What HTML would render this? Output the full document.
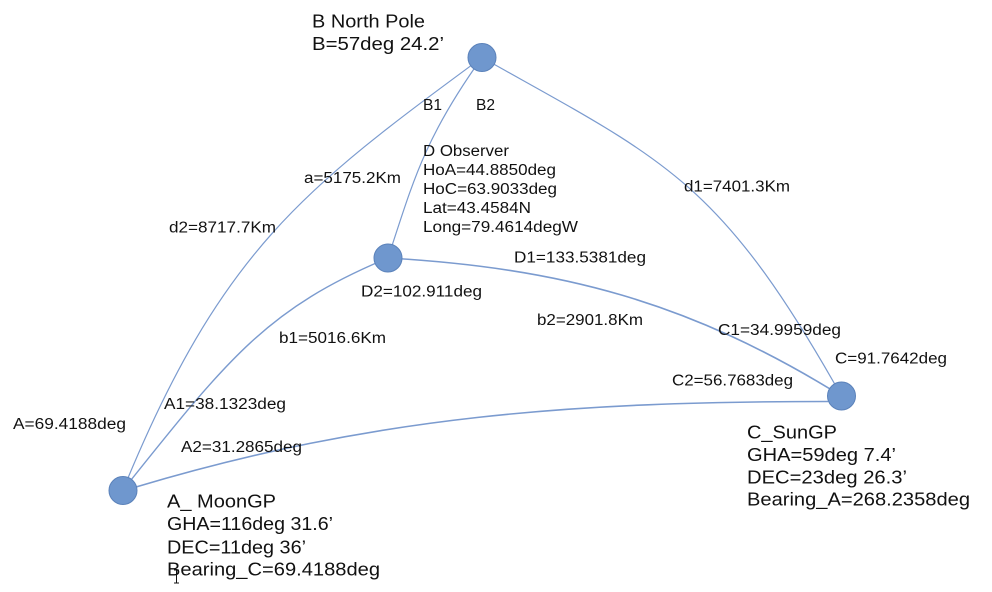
<!DOCTYPE html>
<html>
<head>
<meta charset="utf-8">
<style>
html,body{margin:0;padding:0;background:#fff;}
svg{display:block;}
text{font-family:"Liberation Sans",Arial,sans-serif;fill:#111;}
.s{font-size:15.4px;}
.b{font-size:18.6px;}
</style>
</head>
<body>
<svg width="992" height="592" viewBox="0 0 992 592" xmlns="http://www.w3.org/2000/svg">
<rect width="992" height="592" fill="#fff"/>
<g fill="none" stroke="#7b9bcf">
  <path d="M123,490 C221.5,249 305,188 482,57.5" stroke-width="1.2"/>
  <path d="M123,490 C229,357 268,308 388,258" stroke-width="1.4"/>
  <path d="M482,57.5 C424,138.5 413,182 388,258" stroke-width="1.2"/>
  <path d="M482,57.5 C664.7,160.4 719,178.5 841.5,396" stroke-width="1.2"/>
  <path d="M388,258 C560,268 688.5,301 841.5,396" stroke-width="1.6"/>
  <path d="M136,487 C375.5,415.3 578,401.5 828,401.5" stroke-width="1.6"/>
</g>
<g fill="#6f97ce" stroke="#5b82ba" stroke-width="1">
  <circle cx="482" cy="57.5" r="14"/>
  <circle cx="388" cy="258" r="14"/>
  <circle cx="123" cy="490.5" r="14"/>
  <circle cx="841.5" cy="396" r="14"/>
</g>

<text class="b" x="312" y="27.3" textLength="113" lengthAdjust="spacingAndGlyphs">B North Pole</text>
<text class="b" x="312" y="50" textLength="132" lengthAdjust="spacingAndGlyphs">B=57deg 24.2’</text>

<text class="b" x="167" y="507.3" textLength="109" lengthAdjust="spacingAndGlyphs">A_ MoonGP</text>
<text class="b" x="167" y="530" textLength="166" lengthAdjust="spacingAndGlyphs">GHA=116deg 31.6’</text>
<text class="b" x="167" y="553.3" textLength="139" lengthAdjust="spacingAndGlyphs">DEC=11deg 36’</text>
<text class="b" x="167" y="575.7" textLength="213" lengthAdjust="spacingAndGlyphs">Bearing_C=69.4188deg</text>

<text class="b" x="747" y="438.3" textLength="90" lengthAdjust="spacingAndGlyphs">C_SunGP</text>
<text class="b" x="747" y="461" textLength="149" lengthAdjust="spacingAndGlyphs">GHA=59deg 7.4’</text>
<text class="b" x="747" y="483.3" textLength="160" lengthAdjust="spacingAndGlyphs">DEC=23deg 26.3’</text>
<text class="b" x="747" y="505.7" textLength="223" lengthAdjust="spacingAndGlyphs">Bearing_A=268.2358deg</text>

<text class="s" x="423" y="110" textLength="19" lengthAdjust="spacingAndGlyphs">B1</text>
<text class="s" x="476" y="110" textLength="19" lengthAdjust="spacingAndGlyphs">B2</text>

<text class="s" x="423" y="156" textLength="86" lengthAdjust="spacingAndGlyphs">D Observer</text>
<text class="s" x="423" y="175" textLength="133" lengthAdjust="spacingAndGlyphs">HoA=44.8850deg</text>
<text class="s" x="423" y="194" textLength="134" lengthAdjust="spacingAndGlyphs">HoC=63.9033deg</text>
<text class="s" x="423" y="213" textLength="108" lengthAdjust="spacingAndGlyphs">Lat=43.4584N</text>
<text class="s" x="423" y="232" textLength="155" lengthAdjust="spacingAndGlyphs">Long=79.4614degW</text>

<text class="s" x="514" y="262.7" textLength="132" lengthAdjust="spacingAndGlyphs">D1=133.5381deg</text>
<text class="s" x="361" y="296.7" textLength="121" lengthAdjust="spacingAndGlyphs">D2=102.911deg</text>
<text class="s" x="304" y="183" textLength="97" lengthAdjust="spacingAndGlyphs">a=5175.2Km</text>
<text class="s" x="169" y="232.7" textLength="107" lengthAdjust="spacingAndGlyphs">d2=8717.7Km</text>
<text class="s" x="279" y="343" textLength="107" lengthAdjust="spacingAndGlyphs">b1=5016.6Km</text>
<text class="s" x="164" y="409" textLength="122" lengthAdjust="spacingAndGlyphs">A1=38.1323deg</text>
<text class="s" x="181" y="452" textLength="121" lengthAdjust="spacingAndGlyphs">A2=31.2865deg</text>
<text class="s" x="13" y="429" textLength="113" lengthAdjust="spacingAndGlyphs">A=69.4188deg</text>
<text class="s" x="684" y="191.7" textLength="106" lengthAdjust="spacingAndGlyphs">d1=7401.3Km</text>
<text class="s" x="537" y="325" textLength="106" lengthAdjust="spacingAndGlyphs">b2=2901.8Km</text>
<text class="s" x="718" y="335" textLength="123" lengthAdjust="spacingAndGlyphs">C1=34.9959deg</text>
<text class="s" x="672" y="385.7" textLength="121" lengthAdjust="spacingAndGlyphs">C2=56.7683deg</text>
<text class="s" x="835" y="363.3" textLength="112" lengthAdjust="spacingAndGlyphs">C=91.7642deg</text>

<g stroke="#111" stroke-width="1" fill="none">
  <line x1="176.5" y1="570" x2="176.5" y2="583"/>
  <line x1="174" y1="570" x2="179" y2="570"/>
  <line x1="174" y1="583" x2="179" y2="583"/>
</g>
</svg>
</body>
</html>
